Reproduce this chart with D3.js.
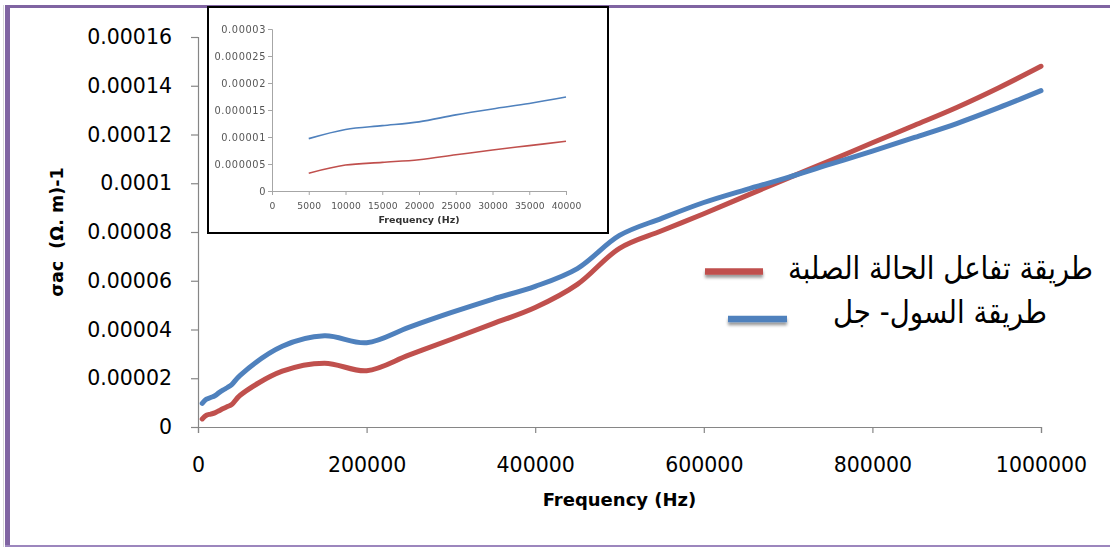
<!DOCTYPE html>
<html>
<head>
<meta charset="utf-8">
<script src="https://cdn.jsdelivr.net/npm/d3@7"></script>
<style>
  html, body { margin: 0; padding: 0; background: #fff; }
  svg { display: block; }
</style>
</head>
<body>
<svg id="chart" width="1110" height="547"></svg>
<script>
// Frequencies (Hz) at which conductivity was measured
const freq = [5000, 10000, 15000, 20000, 25000, 30000, 35000, 40000, 50000,
  100000, 150000, 200000, 250000, 300000, 350000, 400000, 450000, 500000,
  550000, 600000, 650000, 700000, 750000, 800000, 850000, 900000, 950000, 1000000];

// σac (Ω·m)^-1 — sol-gel route
const solGel = [0.0000097, 0.0000114, 0.0000121, 0.0000128, 0.0000141, 0.0000152,
  0.0000162, 0.0000174, 0.0000212, 0.0000331, 0.0000374, 0.0000346, 0.0000409,
  0.0000469, 0.0000525, 0.0000577, 0.0000650, 0.0000786, 0.0000856, 0.0000921,
  0.0000974, 0.0001024, 0.0001078, 0.0001132, 0.0001188, 0.0001245, 0.0001310, 0.0001380];

// σac (Ω·m)^-1 — solid-state reaction route
const solidState = [0.0000033, 0.0000048, 0.0000053, 0.0000058, 0.0000067, 0.0000076,
  0.0000084, 0.0000092, 0.0000130, 0.0000229, 0.0000262, 0.0000231, 0.0000295,
  0.0000359, 0.0000424, 0.0000490, 0.0000585, 0.0000733, 0.0000805, 0.0000875,
  0.0000948, 0.0001021, 0.0001093, 0.0001166, 0.0001238, 0.0001311, 0.0001392, 0.0001480];

const seriesNames = ["طريقة تفاعل الحالة الصلبة", "طريقة السول- جل"];
const seriesColors = ["#C0504D", "#4F81BD"];

const yTickValues = [0, 0.00002, 0.00004, 0.00006, 0.00008, 0.0001, 0.00012, 0.00014, 0.00016];
const yTickLabels = ["0", "0.00002", "0.00004", "0.00006", "0.00008", "0.0001", "0.00012", "0.00014", "0.00016"];
const xTickValues = [0, 200000, 400000, 600000, 800000, 1000000];
const xTickLabels = ["0", "200000", "400000", "600000", "800000", "1000000"];

// Low-frequency detail (first eight measurements)
const insetCount = 8;
const insetYTickValues = [0, 0.000005, 0.00001, 0.000015, 0.00002, 0.000025, 0.00003];
const insetYTickLabels = ["0", "0.000005", "0.00001", "0.000015", "0.00002", "0.000025", "0.00003"];
const insetXTickValues = [0, 5000, 10000, 15000, 20000, 25000, 30000, 35000, 40000];
const insetXTickLabels = ["0", "5000", "10000", "15000", "20000", "25000", "30000", "35000", "40000"];

const svg = d3.select("#chart");
const defs = svg.append("defs");

defs.append("filter").attr("id", "legendShadow")
  .attr("x", "-20%").attr("y", "-100%").attr("width", "140%").attr("height", "400%")
  .append("feDropShadow")
  .attr("dx", 0).attr("dy", 3).attr("stdDeviation", 1.6)
  .attr("flood-color", "#000").attr("flood-opacity", 0.4);

defs.append("filter").attr("id", "soft")
  .append("feGaussianBlur").attr("stdDeviation", 0.45);

svg.append("rect").attr("width", 1110).attr("height", 547).attr("fill", "#fff");

// Frame
svg.append("rect").attr("x", 3).attr("y", 5).attr("width", 1).attr("height", 542).attr("fill", "#d8d8d8");
svg.append("rect").attr("x", 5).attr("y", 5).attr("width", 5).attr("height", 542).attr("fill", "#8064A2");
svg.append("rect").attr("x", 5).attr("y", 5).attr("width", 1105).attr("height", 3).attr("fill", "#8064A2");
svg.append("rect").attr("x", 5).attr("y", 545).attr("width", 1105).attr("height", 2).attr("fill", "#9c86bd");

// ---- Main chart ----
const x = d3.scaleLinear().domain([0, 1000000]).range([198, 1041]);
const y = d3.scaleLinear().domain([0, 0.00016]).range([427, 37]);

const axisFont = "'DejaVu Sans', sans-serif";

const yAxis = svg.append("g")
  .attr("transform", `translate(${x(0)},0)`)
  .call(d3.axisLeft(y).tickValues(yTickValues)
    .tickFormat((d, i) => yTickLabels[i]).tickSize(7).tickPadding(19));
yAxis.selectAll("text").attr("font-family", axisFont).attr("font-size", 20.5).attr("fill", "#000");

const xAxis = svg.append("g")
  .attr("transform", `translate(0,${y(0)})`)
  .call(d3.axisBottom(x).tickValues(xTickValues)
    .tickFormat((d, i) => xTickLabels[i]).tickSize(6).tickPadding(24));
xAxis.selectAll("text").attr("font-family", axisFont).attr("font-size", 20.5).attr("fill", "#000");

[yAxis, xAxis].forEach(a => {
  a.select(".domain").attr("stroke", "#868686").attr("stroke-width", 1.2);
  a.selectAll(".tick line").attr("stroke", "#868686").attr("stroke-width", 1.2);
});

svg.append("text")
  .attr("x", (x.range()[0] + x.range()[1]) / 2).attr("y", 506)
  .attr("text-anchor", "middle")
  .attr("font-family", axisFont).attr("font-weight", "bold").attr("font-size", 18)
  .text("Frequency (Hz)");

svg.append("text")
  .attr("transform", `translate(63,${(y.range()[0] + y.range()[1]) / 2}) rotate(-90)`)
  .attr("text-anchor", "middle")
  .style("white-space", "pre")
  .attr("font-family", axisFont).attr("font-weight", "bold").attr("font-size", 17.5)
  .text("σac  (Ω. m)-1");

const mainLine = values => d3.line()
  .x((d, i) => x(freq[i]))
  .y(d => y(d))
  .curve(d3.curveCatmullRom.alpha(0.5))(values);

[solidState, solGel].forEach((vals, k) => {
  svg.append("path")
    .attr("d", mainLine(vals))
    .attr("fill", "none")
    .attr("stroke", seriesColors[k])
    .attr("stroke-width", 5)
    .attr("stroke-linecap", "round")
    .attr("stroke-linejoin", "round");
});

// ---- Legend ----
const legendSamples = [
  { x1: 705, x2: 763, y: 271.5 },
  { x1: 728, x2: 787, y: 319 }
];
const legendText = [
  { cx: 940.5, y: 279, w: 305 },
  { cx: 940, y: 323, w: 214 }
];
const sampleThickness = 6.5;

legendSamples.forEach((s, k) => {
  svg.append("rect")
    .attr("x", s.x1).attr("y", s.y - sampleThickness / 2)
    .attr("width", s.x2 - s.x1).attr("height", sampleThickness)
    .attr("fill", seriesColors[k])
    .attr("filter", "url(#legendShadow)");
});

const legendNodes = legendText.map((t, k) => svg.append("g")
  .attr("transform", `translate(${t.cx},${t.y}) scale(1,1.15)`)
  .append("text")
  .attr("x", 0).attr("y", 0)
  .attr("text-anchor", "middle")
  .attr("font-family", "'DejaVu Sans', sans-serif")
  .attr("font-size", 26)
  .attr("fill", "#000")
  .text(seriesNames[k]));

let ratio = 0;
legendNodes.forEach((n, k) => { ratio += legendText[k].w / n.node().getComputedTextLength(); });
ratio /= legendNodes.length;
legendNodes.forEach(n => n.attr("font-size", 26 * ratio));

// ---- Inset: low-frequency range ----
const inset = svg.append("g");
defs.append("clipPath").attr("id", "insetClip")
  .append("rect").attr("x", 209.5).attr("y", 8).attr("width", 398).attr("height", 217);

inset.append("rect").attr("x", 208).attr("y", 7).attr("width", 400).attr("height", 226)
  .attr("fill", "#fff");

const insetBody = inset.append("g")
  .attr("clip-path", "url(#insetClip)")
  .append("g")
  .attr("filter", "url(#soft)");

const xi = d3.scaleLinear().domain([0, 40000]).range([272, 566]);
const yi = d3.scaleLinear().domain([0, 0.00003]).range([191, 29]);

const iy = insetBody.append("g")
  .attr("transform", `translate(${xi(0)},0)`)
  .call(d3.axisLeft(yi).tickValues(insetYTickValues)
    .tickFormat((d, i) => insetYTickLabels[i]).tickSize(4).tickPadding(2));
const ix = insetBody.append("g")
  .attr("transform", `translate(0,${yi(0)})`)
  .call(d3.axisBottom(xi).tickValues(insetXTickValues)
    .tickFormat((d, i) => insetXTickLabels[i]).tickSize(4).tickPadding(7));

[iy, ix].forEach(a => {
  a.select(".domain").attr("stroke", "#a6a6a6");
  a.selectAll(".tick line").attr("stroke", "#a6a6a6");
  a.selectAll("text").attr("font-family", axisFont).attr("fill", "#555");
});
iy.selectAll("text").attr("font-size", 9.8).attr("letter-spacing", 0.6);
ix.selectAll("text").attr("font-size", 9.2).attr("letter-spacing", 0.1);

insetBody.append("text")
  .attr("x", 419).attr("y", 223)
  .attr("text-anchor", "middle")
  .attr("font-family", axisFont).attr("font-weight", "bold").attr("font-size", 9.5)
  .attr("fill", "#333")
  .text("Frequency (Hz)");

// Inset y title, cut off by the inset's left edge
insetBody.append("text")
  .attr("transform", `translate(208.3,${(yi.range()[0] + yi.range()[1]) / 2}) rotate(-90)`)
  .attr("text-anchor", "middle")
  .attr("font-family", axisFont).attr("font-weight", "bold").attr("font-size", 9)
  .attr("fill", "#333")
  .text("σac (Ω. m)-1");

const insetLine = values => d3.line()
  .x((d, i) => xi(freq[i]))
  .y(d => yi(d))
  .curve(d3.curveCatmullRom.alpha(0.5))(values.slice(0, insetCount));

[solidState, solGel].forEach((vals, k) => {
  insetBody.append("path")
    .attr("d", insetLine(vals))
    .attr("fill", "none")
    .attr("stroke", seriesColors[k])
    .attr("stroke-width", 1.6);
});

inset.append("rect").attr("x", 208).attr("y", 7).attr("width", 400).attr("height", 226)
  .attr("fill", "none").attr("stroke", "#000").attr("stroke-width", 2);
</script>
</body>
</html>
